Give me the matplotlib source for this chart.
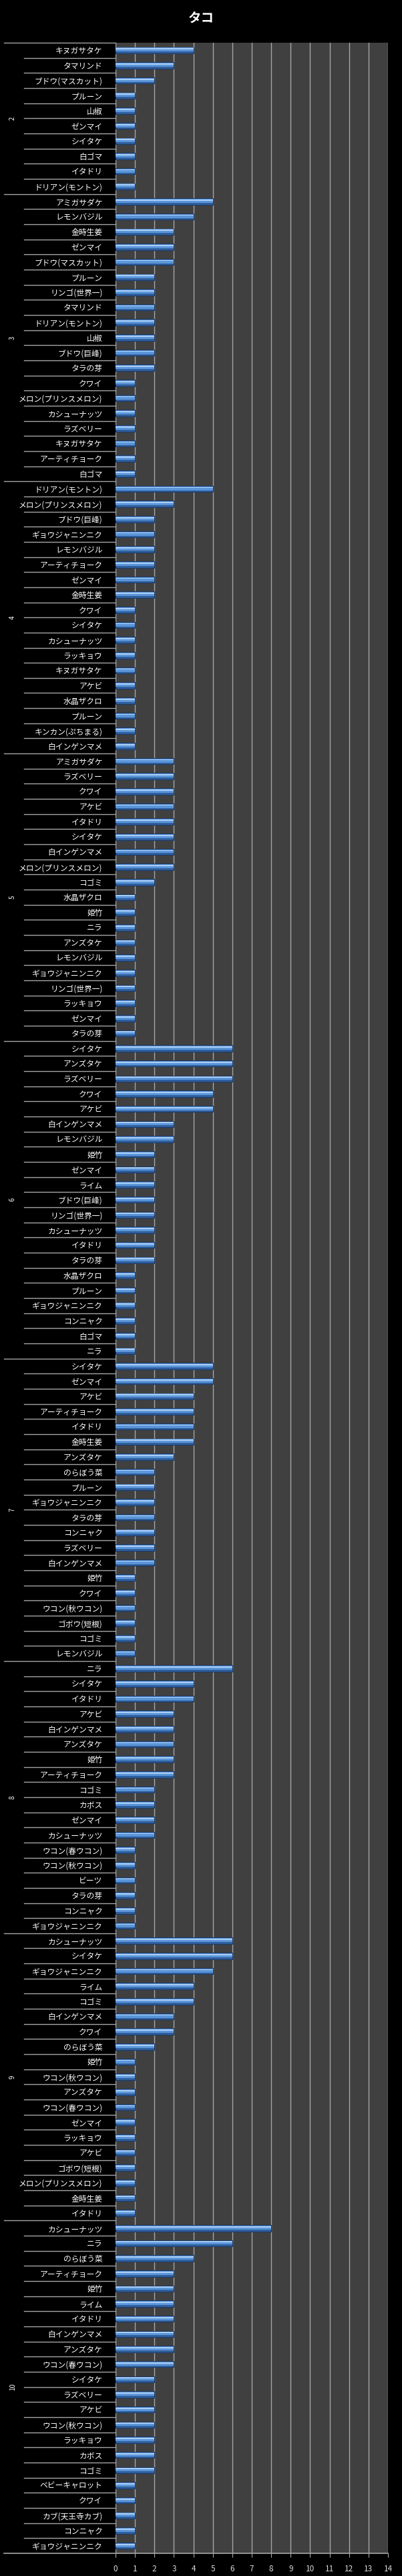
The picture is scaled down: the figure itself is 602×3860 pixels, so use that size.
import matplotlib
matplotlib.use('Agg')
import matplotlib.pyplot as plt
from matplotlib.transforms import blended_transform_factory

plt.rcParams['font.family'] = ['Noto Sans CJK JP', 'DejaVu Sans']

# month groups, top to bottom
months = ['2', '3', '4', '5', '6', '7', '8', '9', '10']

names_2 = ['キヌガサタケ', 'タマリンド', 'ブドウ(マスカット)', 'プルーン', '山椒', 'ゼンマイ',
           'シイタケ', '白ゴマ', 'イタドリ', 'ドリアン(モントン)']
vals_2 = [4, 3, 2, 1, 1, 1, 1, 1, 1, 1]

names_3 = ['アミガサダケ', 'レモンバジル', '金時生姜', 'ゼンマイ', 'ブドウ(マスカット)', 'プルーン',
           'リンゴ(世界一)', 'タマリンド', 'ドリアン(モントン)', '山椒', 'ブドウ(巨峰)', 'タラの芽',
           'クワイ', 'メロン(プリンスメロン)', 'カシューナッツ', 'ラズベリー', 'キヌガサタケ',
           'アーティチョーク', '白ゴマ']
vals_3 = [5, 4, 3, 3, 3, 2, 2, 2, 2, 2, 2, 2, 1, 1, 1, 1, 1, 1, 1]

names_4 = ['ドリアン(モントン)', 'メロン(プリンスメロン)', 'ブドウ(巨峰)', 'ギョウジャニンニク',
           'レモンバジル', 'アーティチョーク', 'ゼンマイ', '金時生姜', 'クワイ', 'シイタケ',
           'カシューナッツ', 'ラッキョウ', 'キヌガサタケ', 'アケビ', '水晶ザクロ', 'プルーン',
           'キンカン(ぷちまる)', '白インゲンマメ']
vals_4 = [5, 3, 2, 2, 2, 2, 2, 2, 1, 1, 1, 1, 1, 1, 1, 1, 1, 1]

names_5 = ['アミガサダケ', 'ラズベリー', 'クワイ', 'アケビ', 'イタドリ', 'シイタケ', '白インゲンマメ',
           'メロン(プリンスメロン)', 'コゴミ', '水晶ザクロ', '姫竹', 'ニラ', 'アンズタケ',
           'レモンバジル', 'ギョウジャニンニク', 'リンゴ(世界一)', 'ラッキョウ', 'ゼンマイ', 'タラの芽']
vals_5 = [3, 3, 3, 3, 3, 3, 3, 3, 2, 1, 1, 1, 1, 1, 1, 1, 1, 1, 1]

names_6 = ['シイタケ', 'アンズタケ', 'ラズベリー', 'クワイ', 'アケビ', '白インゲンマメ', 'レモンバジル',
           '姫竹', 'ゼンマイ', 'ライム', 'ブドウ(巨峰)', 'リンゴ(世界一)', 'カシューナッツ',
           'イタドリ', 'タラの芽', '水晶ザクロ', 'プルーン', 'ギョウジャニンニク', 'コンニャク',
           '白ゴマ', 'ニラ']
vals_6 = [6, 6, 6, 5, 5, 3, 3, 2, 2, 2, 2, 2, 2, 2, 2, 1, 1, 1, 1, 1, 1]

names_7 = ['シイタケ', 'ゼンマイ', 'アケビ', 'アーティチョーク', 'イタドリ', '金時生姜', 'アンズタケ',
           'のらぼう菜', 'プルーン', 'ギョウジャニンニク', 'タラの芽', 'コンニャク', 'ラズベリー',
           '白インゲンマメ', '姫竹', 'クワイ', 'ウコン(秋ウコン)', 'ゴボウ(短根)', 'コゴミ',
           'レモンバジル']
vals_7 = [5, 5, 4, 4, 4, 4, 3, 2, 2, 2, 2, 2, 2, 2, 1, 1, 1, 1, 1, 1]

names_8 = ['ニラ', 'シイタケ', 'イタドリ', 'アケビ', '白インゲンマメ', 'アンズタケ', '姫竹',
           'アーティチョーク', 'コゴミ', 'カボス', 'ゼンマイ', 'カシューナッツ', 'ウコン(春ウコン)',
           'ウコン(秋ウコン)', 'ビーツ', 'タラの芽', 'コンニャク', 'ギョウジャニンニク']
vals_8 = [6, 4, 4, 3, 3, 3, 3, 3, 2, 2, 2, 2, 1, 1, 1, 1, 1, 1]

names_9 = ['カシューナッツ', 'シイタケ', 'ギョウジャニンニク', 'ライム', 'コゴミ', '白インゲンマメ',
           'クワイ', 'のらぼう菜', '姫竹', 'ウコン(秋ウコン)', 'アンズタケ', 'ウコン(春ウコン)',
           'ゼンマイ', 'ラッキョウ', 'アケビ', 'ゴボウ(短根)', 'メロン(プリンスメロン)',
           '金時生姜', 'イタドリ']
vals_9 = [6, 6, 5, 4, 4, 3, 3, 2, 1, 1, 1, 1, 1, 1, 1, 1, 1, 1, 1]

names_10 = ['カシューナッツ', 'ニラ', 'のらぼう菜', 'アーティチョーク', '姫竹', 'ライム', 'イタドリ',
            '白インゲンマメ', 'アンズタケ', 'ウコン(春ウコン)', 'シイタケ', 'ラズベリー', 'アケビ',
            'ウコン(秋ウコン)', 'ラッキョウ', 'カボス', 'コゴミ', 'ベビーキャロット', 'クワイ',
            'カブ(天王寺カブ)', 'コンニャク', 'ギョウジャニンニク']
vals_10 = [8, 6, 4, 3, 3, 3, 3, 3, 3, 3, 2, 2, 2, 2, 2, 2, 2, 1, 1, 1, 1, 1]

groups = [(names_2, vals_2), (names_3, vals_3), (names_4, vals_4), (names_5, vals_5),
          (names_6, vals_6), (names_7, vals_7), (names_8, vals_8), (names_9, vals_9),
          (names_10, vals_10)]

labels = []
values = []
bounds = []
for names, vals in groups:
    start = len(labels)
    labels += names
    values += vals
    bounds.append((start, len(labels)))
n = len(labels)
ypos = list(range(n))

W, H = 602, 3860
fig = plt.figure(figsize=(W / 100, H / 100), dpi=100, facecolor='black')
left, right, top, bottom = 173, 581, 64, 3826
ax = fig.add_axes([left / W, 1 - bottom / H, (right - left) / W, (bottom - top) / H])
ax.set_facecolor('#404040')

grid_c = '#a6a6a6'
ax.set_xlim(0, 14)
ax.set_ylim(n - 0.5, -0.5)
ax.set_xticks(range(0, 15))
ax.xaxis.grid(True, color=grid_c, linewidth=1)
ax.set_axisbelow(True)

# bevelled bars: dark base, mid body, light top stripe
ax.barh(ypos, values, height=0.42, color='#2f5f9e', edgecolor='#1c3a66', linewidth=0.8, zorder=3)
ax.barh([y - 0.04 for y in ypos], values, height=0.26, color='#5b95d8', linewidth=0, zorder=4)
ax.barh([y - 0.09 for y in ypos], values, height=0.08, color='#a9cdf5', linewidth=0, zorder=5)

ax.set_yticks(ypos)
ax.set_yticklabels(labels, color='white', fontsize=8.5)
ax.tick_params(axis='y', length=0, pad=14)
ax.tick_params(axis='x', length=4, color=grid_c, colors='#d9d9d9', labelsize=8.5, pad=8)
for sp in ax.spines.values():
    sp.set_visible(False)

tr = blended_transform_factory(ax.transAxes, ax.transData)
x_cat = (36 - left) / (right - left)
x_grp = (6 - left) / (right - left)
group_starts = {b[0] for b in bounds}
for i in range(n):
    x0 = x_grp if i in group_starts else x_cat
    ax.plot([x0, 0], [i - 0.5, i - 0.5], color=grid_c, linewidth=1, transform=tr, clip_on=False)
# bottom axis line
ax.plot([x_grp, 1], [n - 0.5, n - 0.5], color=grid_c, linewidth=1.2, transform=tr, clip_on=False)

x_lab = (19 - left) / (right - left)
for m, (s, e) in zip(months, bounds):
    ax.text(x_lab, (s + e - 1) / 2, m, rotation=90, color='white', fontsize=7,
            ha='center', va='center', transform=tr)

fig.text(0.5, 1 - 27 / H, 'タコ', color='white', fontsize=14, fontweight='bold',
         ha='center', va='center')

fig.savefig('out.png', dpi=100, facecolor='black')
